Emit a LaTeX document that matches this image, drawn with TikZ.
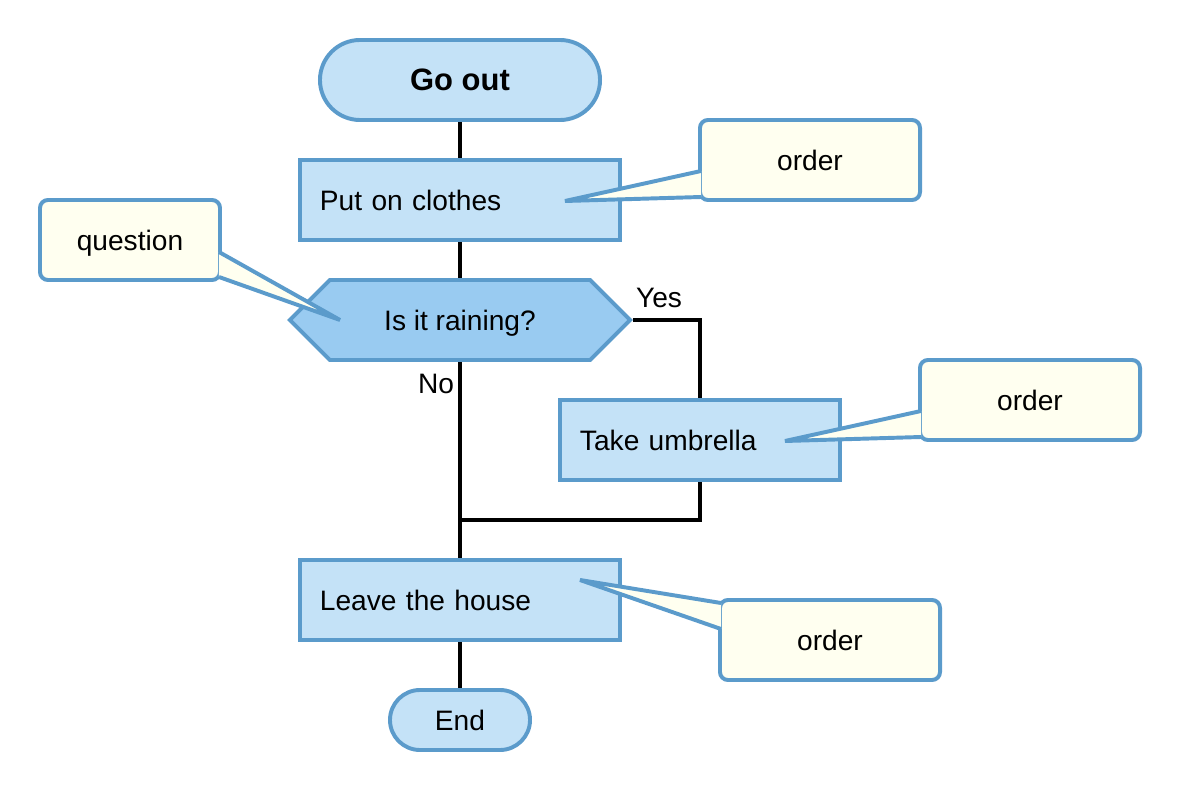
\documentclass[tikz,border=0pt]{standalone}
\usepackage{fontspec}
\setmainfont{Liberation Sans}
\usetikzlibrary{shapes.symbols, calc, backgrounds}
\definecolor{FlowBlue}{HTML}{C4E2F7}
\definecolor{FlowDeepBlue}{HTML}{99CBF1}
\definecolor{FlowEdge}{HTML}{5B9BCB}
\definecolor{NoteIvory}{HTML}{FFFFF0}

\begin{document}
\begin{tikzpicture}[x=0.025cm, y=-0.025cm,
        font=\fontsize{20}{24}\selectfont,
        term/.style={draw=FlowEdge, fill=FlowBlue, line width=2.8pt, rounded corners=1cm, minimum height=2cm, text depth=0pt},
        proc/.style={draw=FlowEdge, fill=FlowBlue, line width=2.8pt, minimum height=2cm, inner xsep=0.5cm, align=left, text depth=0pt},
        ask/.style={signal, signal to=east and west, signal pointer angle=90, draw=FlowEdge, fill=FlowDeepBlue, line width=2.8pt, minimum width=8.5cm, minimum height=2cm, text depth=0pt},
        note/.style={draw=FlowEdge, fill=NoteIvory, line width=2.8pt, rounded corners=0.2cm, minimum height=2cm, text depth=0pt},
        tip/.style={fill=NoteIvory},
        tipline/.style={draw=FlowEdge, line width=2.8pt},
        conn/.style={line width=2.8pt, black}
    ]
        \useasboundingbox (0,0) rectangle (1180,800);
        \node[term, minimum width=7cm, font=\fontsize{22}{26}\selectfont\bfseries] (start) at (460,80) {Go out};
        \node[proc, text width=7cm] (clothes) at (460,200) {Put on clothes};
        \node[ask] (rain) at (460,320) {Is it raining?};
        \node[proc, text width=6cm] (umbrella) at (700,440) {Take umbrella};
        \node[proc, text width=7cm] (leave) at (460,600) {Leave the house};
        \node[term, minimum width=3.5cm, minimum height=1.5cm, rounded corners=0.75cm] (stop) at (460,720) {End};
        \node (yes) at (659,298) {Yes};
        \node (no) at (436,384) {No};
        \node[note, minimum width=5.5cm] (n1) at (810,160) {order};
        \node[note, minimum width=4.5cm] (n2) at (130,240) {question};
        \node[note, minimum width=5.5cm] (n3) at (1030,400) {order};
        \node[note, minimum width=5.5cm] (n4) at (830,640) {order};
        \coordinate (t1) at (565,201);
        \coordinate (t2) at (340,320);
        \coordinate (t3) at (785,441);
        \coordinate (t4) at (580,580);
        \coordinate (merge) at (460,520);
        \foreach \n/\side/\dx/\a/\b/\t in {n1/west/3/11/37/t1, n2/east/-3/12/37/t2, n3/west/3/11/37/t3, n4/west/3/-37/-11/t4} {
            \fill[tip] ($(\n.\side)+(\dx,\a)$) -- (\t) -- ($(\n.\side)+(\dx,\b)$) -- cycle;
            \draw[tipline] ($(\n.\side)+(\dx,\a)$) -- (\t) -- ($(\n.\side)+(\dx,\b)$);
        }
        \begin{pgfonlayer}{background}
            \draw[conn] (start) -- (clothes);
            \draw[conn] (clothes) -- (rain);
            \draw[conn] (rain.east) -| (umbrella.north);
            \draw[conn] (rain.south) -- (leave.north);
            \draw[conn] (umbrella.south) |- (merge);
            \draw[conn] (leave) -- (stop);
        \end{pgfonlayer}
    \end{tikzpicture}
\end{document}
